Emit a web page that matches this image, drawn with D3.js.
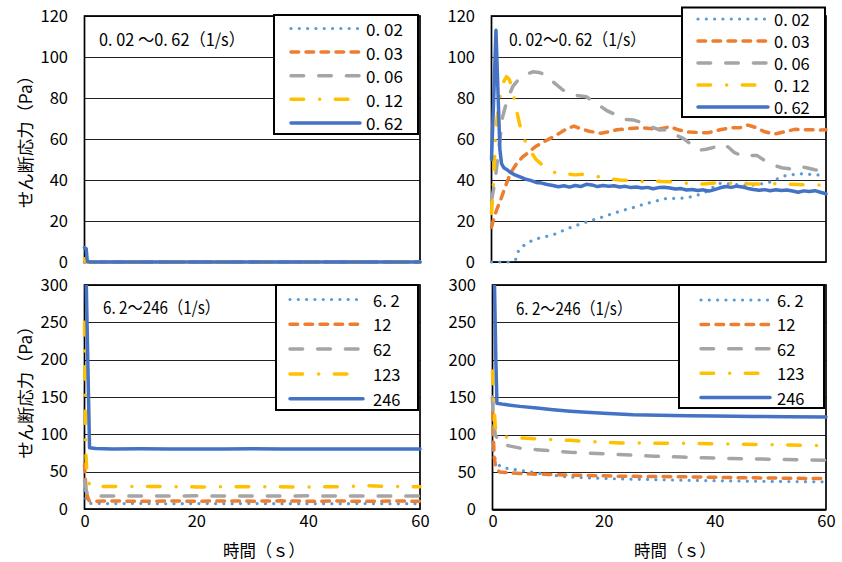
<!DOCTYPE html>
<html><head><meta charset="utf-8">
<script src="https://cdn.jsdelivr.net/npm/d3@7"></script>
<style>body{margin:0;background:#fff} text{font-family:"Noto Sans CJK JP","Noto Sans",sans-serif;fill:#000}</style>
</head><body>
<svg id="c" width="842" height="562"></svg>
<script>
// ---------- DATA ----------
const lowRates = ["0. 02", "0. 03", "0. 06", "0. 12", "0. 62"];
const highRates = ["6. 2", "12", "62", "123", "246"];
const yTicksLow = [0, 20, 40, 60, 80, 100, 120];
const yTicksHigh = [0, 50, 100, 150, 200, 250, 300];
const xTicks = [0, 20, 40, 60];
const titleTL = "0. 02 〜0. 62（1/s）";
const titleTR = "0. 02〜0. 62（1/s）";
const titleHigh = "6. 2〜246（1/s）";
const yTitle = "せん断応力（Pa）";
const xTitle = "時間（ｓ）";

// top-left panel: [time s, stress Pa]
const TL_002 = [[0,0],[60,0]];
const TL_003 = [[0,0],[60,0]];
const TL_006 = [[0,0],[60,0]];
const TL_012 = [[0,1.5],[0.2,0.3],[0.5,0],[60,0]];
const TL_062 = [[0,7],[0.3,6.5],[0.5,0.3],[1,0],[60,0]];

// top-right panel
const TR_002 = [[0,0],[1,0],[2,0],[3,0],[4.3,1],[4.9,5.9],[6,8.5],[7.4,10.7],[9,12],[11,13.2],[13,15.5],[14.6,17.3],[16.5,19],[18.2,20.5],[20,22],[21.8,23.7],[24,25.5],[26,27],[27.5,28.3],[29,29.4],[31.4,31],[33,31],[35,31.3],[36.5,32.3],[38,33.4],[39.5,36],[41,38.4],[43,38],[45,37.5],[47,37.6],[48.5,38.2],[50,39],[51.5,40.8],[53,42.4],[56,43.1],[58,42.5],[60,42.4]];
const TR_003 = [[0,17],[0.5,22],[1,26],[1.6,30],[2.5,37],[3.4,43.3],[4.5,48],[5.5,51],[6.4,53],[8,56.5],[10,59.5],[12,62.5],[13.5,65],[14.8,66.3],[16,65],[17.5,63.8],[19.6,62.8],[21,63.5],[22.5,64.5],[24.4,65],[27,65.5],[29,65],[30.4,65],[32,66],[33.5,64.5],[35.2,63.4],[37,63.2],[38.8,63],[41,64.5],[43,65.5],[44.5,65.5],[46,66.8],[47.5,65.5],[49,63.5],[50.8,62.4],[52.5,63.5],[54.4,64.7],[56.5,64.5],[59,64.4],[60,64.5]];
const TR_006 = [[0,30],[0.4,36],[0.8,43.3],[1.3,55],[2,70.9],[2.8,79],[3.8,85.5],[5,89.5],[6.2,91.5],[7.4,92.8],[8.6,92.4],[9.8,91.2],[11,88],[12.8,83.9],[14.5,81.5],[16,81],[17,80.6],[18.5,78],[20.6,74],[22.5,71.5],[24,69.5],[25.4,69.3],[27,68],[28.5,66],[30.2,64.4],[31.5,64.5],[33,62],[34.4,60.3],[35.5,58],[36.5,55.5],[37.4,54.6],[38.5,55],[40,56],[41.5,57.5],[42.5,56],[43.5,53.5],[45.2,51.4],[46.5,52],[47.6,52],[49,49.5],[50.6,47.3],[52,46],[53.5,45.5],[54.8,46.7],[56.5,46],[58,45],[60,44.5]];
const TR_012 = [[0,23.7],[0.3,36],[0.7,59.5],[1,70],[1.4,79],[2,87],[2.7,90.4],[3.2,89],[3.8,83.9],[4.4,75],[5,67.7],[5.6,62],[6.2,57.9],[7,54],[8,50],[9.5,46.5],[11,44],[12.2,42.8],[13.4,43.1],[15,42.5],[16.5,42.8],[18.2,42.3],[20,41],[21.5,40.5],[23,40],[25,39.8],[27,39.3],[29,39.6],[30.5,39.3],[32,39.2],[34,38.5],[36,38.3],[38,38],[40,38.5],[42,38.3],[44,38.7],[46,38.2],[48,38],[50,38.3],[53,38],[55,37.8],[57,37.5],[59,37.6],[60,38]];
const TR_062 = [[0,50],[0.4,80],[0.8,113],[1.2,80],[1.5,55],[1.8,48],[2.2,46],[2.8,45],[3.5,43.5],[4.2,42.5],[5,41.6],[6,40.5],[7,39.8],[8,38.8],[9,38.5],[10,37.8],[11,37.3],[12,36.7],[13,37.2],[14,36.5],[15,37.3],[16,36.8],[17,37.9],[18,37.6],[19,36.8],[20,37.3],[21,36.9],[22,37.2],[23,36.6],[24,36.9],[25,36.3],[26,36.6],[27,36.1],[28,36.4],[29,35.7],[30,36.3],[31,36.5],[32,36.1],[33,35.6],[34,35.8],[35,35.1],[36,35.4],[37,34.9],[38,35.2],[39,34.6],[40,35.3],[41,36.2],[42,36.8],[43,36.4],[44,37],[45,36.6],[46,35.9],[47,35.4],[48,35],[49,35.3],[50,34.8],[51,35.2],[52,34.9],[53,35.1],[54,34.6],[55,34],[56,34.7],[57,34.4],[58,34.8],[59,34],[60,33.3]];

// bottom-left panel
const BL_6_2 = [[0,25],[0.3,10],[0.8,7.5],[5,7.2],[10,7.4],[15,7],[20,7.3],[25,7.1],[30,7.4],[35,7],[40,7.2],[45,7.1],[50,7.3],[55,7],[60,7.2]];
const BL_12 = [[0,60],[0.3,22],[0.8,11],[2,10.4],[5,10.8],[10,10.3],[15,10.7],[20,10.4],[25,10.8],[30,10.5],[35,10.9],[40,10.4],[45,10.7],[50,10.3],[55,10.6],[60,10.5]];
const BL_62 = [[0,38],[0.4,22],[1,18],[3,17.4],[10,17.5],[20,17.6],[30,17.4],[40,17.6],[50,17.5],[60,17.4]];
const BL_123 = [[0,250],[0.2,80],[0.5,40],[1,31],[2,30],[10,30.2],[20,29.6],[30,29.8],[40,29.5],[47,30],[50,31.3],[53,30.5],[60,29.8]];
const BL_246 = [[0,420],[0.9,82],[2,81],[5,80.3],[10,80.6],[15,80.2],[20,80.5],[25,80.3],[30,80.6],[35,80.4],[40,80.5],[45,80.3],[50,80.5],[55,80.4],[60,80.3]];

// bottom-right panel
const BR_6_2 = [[0,90],[0.3,70],[1.3,58],[2.5,55],[4.3,53],[6,51],[7.9,49],[10,46.5],[12.7,44],[15,43],[20,41.5],[25,40.5],[29,40],[35,39],[38,38.7],[42,38.3],[47,37.8],[52,37.5],[56,37.2],[60,37]];
const BR_12 = [[0,150],[0.1,110],[0.3,70],[0.6,56],[1.3,50],[3,49],[5,48],[8,47.2],[11,46.7],[15,45.8],[20,45],[23,44.5],[30,44],[35,43.6],[40,43],[47,42.3],[53,41.8],[60,41.3]];
const BR_62 = [[0,150],[0.2,120],[0.5,100],[1.3,89],[3,85],[5,82],[8,80],[11,78],[14,76.5],[20,74.5],[25,72.7],[29,71.2],[34,70],[38,69],[43,68.2],[47,67.6],[53,66.7],[60,65.8]];
const BR_123 = [[0,185],[0.2,150],[0.5,110],[1.3,98],[3,96.5],[5,95.6],[9,94],[14,92.4],[18,90.5],[23,89],[29,88.7],[35,88.4],[41,87.7],[47,87],[53,86.3],[57,85.8],[60,85.5]];
const BR_246 = [[0,450],[0.6,200],[0.8,142],[2,140.5],[4.9,137.8],[8,135.5],[10.9,133.3],[14,131.3],[16.9,129.8],[20,128.5],[25.3,126.7],[30,126],[35,125.3],[40,124.8],[47,124.4],[53,124],[60,123.6]];

// ---------- STYLE ----------
const styles = [
  {color:"#5B9BD5", dash:"0.01 8.3", w:3.2},
  {color:"#ED7D31", dash:"7.6 7.4", w:3.5},
  {color:"#A5A5A5", dash:"12.6 15.1", w:3.5},
  {color:"#FFC000", dash:"12.6 16.1 0.01 15.6", w:3.5},
  {color:"#4472C4", dash:null, w:3.5}
];

const svg = d3.select("#c");
svg.append("rect").attr("width",842).attr("height",562).attr("fill","#fff");

const panels = [
  {id:"tl", x0:84.5, x1:420, y0:16, y1:262, ymax:120, ticks:yTicksLow, series:[TL_002,TL_003,TL_006,TL_012,TL_062],
   labels:lowRates, title:titleTL, tx:99, ty:38, tlen:146, xlabels:false,
   lg:{x:274, y:15, w:144, h:119, r0:28.5, dr:23.6, lx0:291, lx1:360, tx:366, fs:17}},
  {id:"tr", x0:491.5, x1:826, y0:16, y1:262, ymax:120, ticks:yTicksLow, series:[TR_002,TR_003,TR_006,TR_012,TR_062],
   labels:lowRates, title:titleTR, tx:509, ty:38.5, tlen:137, xlabels:false,
   lg:{x:682, y:7.5, w:143, h:109.5, r0:19, dr:22, lx0:698, lx1:768, tx:774, fs:16.5}},
  {id:"bl", x0:84.5, x1:420, y0:285, y1:509, ymax:300, ticks:yTicksHigh, series:[BL_6_2,BL_12,BL_62,BL_123,BL_246],
   labels:highRates, title:titleHigh, tx:103, ty:306, tlen:117, xlabels:true, xtx:264,
   lg:{x:276, y:285, w:142, h:125, r0:299.5, dr:24.8, lx0:290, lx1:363, tx:373, fs:16.5}},
  {id:"br", x0:492.5, x1:826, y0:285, y1:509.5, ymax:300, ticks:yTicksHigh, series:[BR_6_2,BR_12,BR_62,BR_123,BR_246],
   labels:highRates, title:titleHigh, tx:516, ty:307, tlen:116, xlabels:true, xtx:675,
   lg:{x:679, y:285, w:145, h:123, r0:300, dr:24.4, lx0:701, lx1:770, tx:777, fs:16.5}}
];

panels.forEach(p => {
  const x = d3.scaleLinear().domain([0,60]).range([p.x0,p.x1]);
  const y = d3.scaleLinear().domain([0,p.ymax]).range([p.y1,p.y0]);
  const g = svg.append("g");

  // gridlines
  g.selectAll("line.grid").data(p.ticks).join("line")
    .attr("x1",p.x0).attr("x2",p.x1)
    .attr("y1",d=>Math.round(y(d))+0.5).attr("y2",d=>Math.round(y(d))+0.5)
    .attr("stroke","#222").attr("stroke-width",1);

  // y axis labels
  const ya = d3.axisLeft(y).tickValues(p.ticks).tickSize(0).tickPadding(16.5);
  const yg = g.append("g").attr("transform",`translate(${p.x0},0)`).call(ya);
  yg.select(".domain").remove();
  yg.selectAll("text").attr("font-size",16.5).attr("font-family","Noto Sans CJK JP").attr("fill","#000");

  // x axis labels
  if (p.xlabels) {
    const xa = d3.axisBottom(x).tickValues(xTicks).tickSize(0).tickPadding(6);
    const xg = g.append("g").attr("transform",`translate(0,${p.y1})`).call(xa);
    xg.select(".domain").remove();
    xg.selectAll("text").attr("font-size",16.5).attr("font-family","Noto Sans CJK JP").attr("fill","#000");
    g.append("text").attr("x",p.xtx).attr("y",549).attr("text-anchor","middle")
      .attr("dominant-baseline","central").attr("font-size",17)
      .attr("textLength",82).attr("lengthAdjust","spacingAndGlyphs").text(xTitle);
  }

  // frame
  g.append("rect").attr("x",p.x0).attr("y",p.y0).attr("width",p.x1-p.x0).attr("height",p.y1-p.y0)
    .attr("fill","none").attr("stroke","#000").attr("stroke-width",1.7);

  // clip
  const cid = "clip-"+p.id;
  svg.append("clipPath").attr("id",cid).append("rect")
    .attr("x",p.x0-3).attr("y",p.y0).attr("width",p.x1-p.x0+6).attr("height",p.y1-p.y0+4);

  const line = d3.line().x(d=>x(d[0])).y(d=>y(d[1]));
  const sg = g.append("g").attr("clip-path",`url(#${cid})`);
  p.series.forEach((s,i) => {
    const st = styles[i];
    sg.append("path").attr("d",line(s)).attr("fill","none")
      .attr("stroke",st.color).attr("stroke-width",st.w)
      .attr("stroke-linecap","round").attr("stroke-linejoin","round")
      .attr("stroke-dasharray",st.dash);
  });

  // title
  g.append("text").attr("x",p.tx).attr("y",p.ty).attr("dominant-baseline","central")
    .attr("font-size",17).attr("textLength",p.tlen).attr("lengthAdjust","spacingAndGlyphs").text(p.title);

  // legend
  const L = p.lg;
  g.append("rect").attr("x",L.x).attr("y",L.y).attr("width",L.w).attr("height",L.h)
    .attr("fill","#fff").attr("stroke","#000").attr("stroke-width",2);
  p.labels.forEach((lab,i) => {
    const st = styles[i];
    const ry = L.r0 + i*L.dr;
    g.append("line").attr("x1",L.lx0).attr("x2",L.lx1).attr("y1",ry).attr("y2",ry)
      .attr("stroke",st.color).attr("stroke-width",st.w).attr("stroke-linecap","round")
      .attr("stroke-dasharray",st.dash);
    g.append("text").attr("x",L.tx).attr("y",ry).attr("dominant-baseline","central")
      .attr("font-size",L.fs).text(lab);
  });
});

// y axis titles
[[24,137.5],[24,388]].forEach(([cx,cy]) => {
  svg.append("text").attr("transform",`translate(${cx},${cy}) rotate(-90)`)
    .attr("text-anchor","middle").attr("dominant-baseline","central")
    .attr("font-size",17).attr("textLength",141).attr("lengthAdjust","spacingAndGlyphs").text(yTitle);
});
</script>
</body></html>
